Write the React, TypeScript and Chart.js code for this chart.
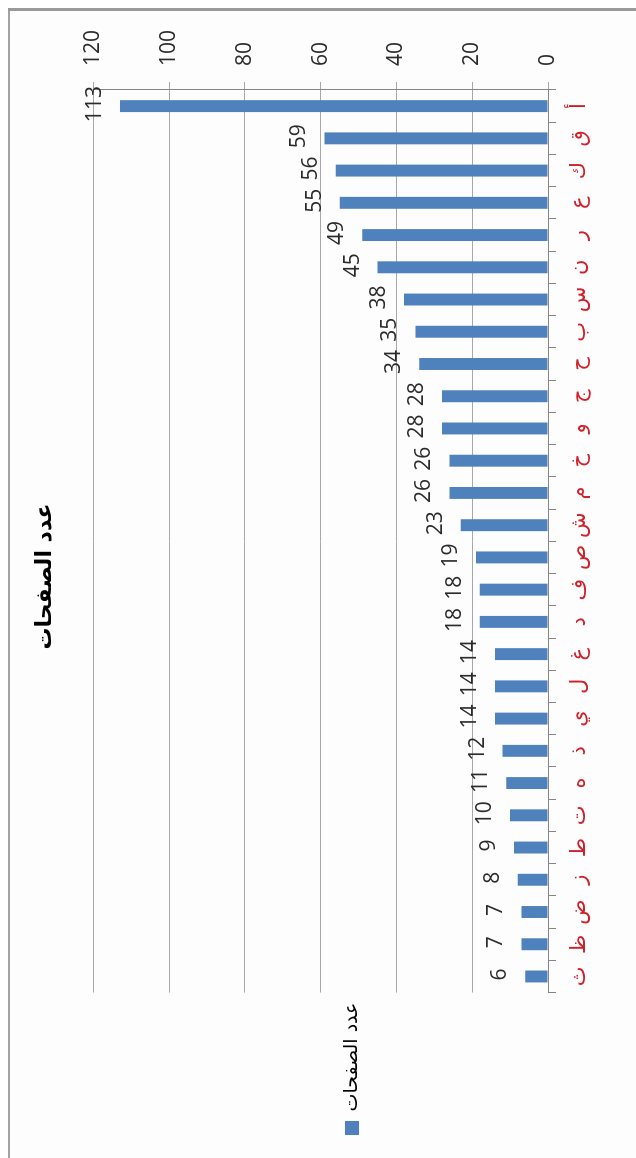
import React, { useEffect, useRef } from 'react';
import { Chart, registerables } from 'chart.js';

Chart.register(...registerables);

// ---- data ----
const letters = ['أ', 'ق', 'ك', 'ع', 'ر', 'ن', 'س', 'ب', 'ح', 'ج', 'و', 'خ', 'م', 'ش', 'ص', 'ف', 'د', 'غ', 'ل', 'ي', 'ذ', 'ه', 'ت', 'ط', 'ز', 'ض', 'ظ', 'ث'];
const pageCounts = [113, 59, 56, 55, 49, 45, 38, 35, 34, 28, 28, 26, 26, 23, 19, 18, 18, 14, 14, 14, 12, 11, 10, 9, 8, 7, 7, 6];
const seriesLabel = 'عدد الصفحات';
const chartTitle = 'عدد الصفحات';
const valueTicks = [0, 20, 40, 60, 80, 100, 120];

// unrotated chart size (the whole chart is turned a quarter turn counter-clockwise)
const CW = 1160;
const CH = 700;

const LATIN = '"Open Sans", "DejaVu Sans", sans-serif';
const ARABIC = '"DejaVu Sans", sans-serif';

export default function App() {
  const ref = useRef<HTMLCanvasElement | null>(null);

  useEffect(() => {
    const canvas = ref.current;
    if (!canvas) return;

    const framePlugin = {
      id: 'frame',
      beforeDraw(chart: any) {
        const { ctx, width, height } = chart;
        ctx.save();
        ctx.fillStyle = '#fdfdfd';
        ctx.fillRect(0, 0, width, height);
        ctx.fillStyle = '#a3a3a3';
        ctx.fillRect(0, 0, width, 2);
        ctx.fillStyle = '#9a9a9a';
        ctx.fillRect(width - 3, 0, 3, height);
        ctx.restore();
      },
      afterLayout(chart: any) {
        const lg = chart.legend;
        if (lg) {
          lg.top -= 6;
          lg.bottom -= 6;
        }
      },
    };

    const dataLabelPlugin = {
      id: 'dataLabels',
      afterDatasetsDraw(chart: any) {
        const { ctx } = chart;
        const meta = chart.getDatasetMeta(0);
        ctx.save();
        ctx.font = `21px ${LATIN}`;
        ctx.fillStyle = '#2b2b2b';
        ctx.textAlign = 'center';
        ctx.textBaseline = 'middle';
        meta.data.forEach((bar: any, i: number) => {
          const p = bar.getProps(['x', 'y'], true);
          ctx.fillText(String(pageCounts[i]), p.x + 2, p.y - 25);
        });
        ctx.restore();
      },
    };

    const chart = new Chart(canvas, {
      type: 'bar',
      data: {
        labels: letters,
        datasets: [
          {
            label: seriesLabel,
            data: pageCounts,
            backgroundColor: '#4f81bd',
            borderWidth: 0,
            categoryPercentage: 1,
            barPercentage: 0.37,
          },
        ],
      },
      options: {
        responsive: false,
        animation: false,
        layout: { padding: { left: 23, right: 0, top: 0, bottom: 0 } },
        plugins: {
          title: {
            display: true,
            text: chartTitle,
            color: '#000000',
            font: { family: ARABIC, size: 22, weight: 'bold' },
            padding: { top: 24, bottom: 35 },
          },
          legend: {
            display: true,
            position: 'left',
            labels: {
              boxWidth: 14,
              boxHeight: 14,
              padding: 10,
              color: '#000000',
              font: { family: ARABIC, size: 19 },
            },
          },
          tooltip: { enabled: false },
        },
        scales: {
          x: {
            type: 'category',
            reverse: true,
            position: 'bottom',
            afterFit: (axis: any) => {
              axis.height = 160;
            },
            grid: {
              display: true,
              drawOnChartArea: false,
              drawTicks: true,
              tickLength: 8,
              color: '#868686',
              offset: true,
            },
            border: { display: true, color: '#868686', width: 1 },
            ticks: {
              autoSkip: false,
              maxRotation: 0,
              minRotation: 0,
              padding: 11,
              color: '#d0202a',
              font: { family: ARABIC, size: 21 },
            },
          },
          y: {
            type: 'linear',
            position: 'right',
            min: 0,
            max: 120,
            afterFit: (axis: any) => {
              axis.width = 82;
            },
            afterBuildTicks: (axis: any) => {
              axis.ticks = valueTicks.map((v) => ({ value: v }));
            },
            grid: {
              display: true,
              drawOnChartArea: true,
              drawTicks: true,
              tickLength: 8,
              color: '#a8a8a8',
            },
            border: { display: true, color: '#868686', width: 1 },
            ticks: {
              padding: 16,
              color: '#2b2b2b',
              font: { family: LATIN, size: 21 },
            },
          },
        },
      },
      plugins: [framePlugin, dataLabelPlugin],
    } as any);

    return () => {
      chart.destroy();
    };
  }, []);

  return (
    <div
      style={{
        position: 'fixed',
        left: 0,
        top: 0,
        width: 636,
        height: 1158,
        overflow: 'hidden',
        background: '#ffffff',
      }}
    >
      <canvas
        ref={ref}
        width={CW}
        height={CH}
        style={{
          position: 'absolute',
          left: 8,
          top: 8,
          width: CW,
          height: CH,
          transformOrigin: '0 0',
          transform: `translateY(${CW}px) rotate(-90deg)`,
        }}
      />
    </div>
  );
}
